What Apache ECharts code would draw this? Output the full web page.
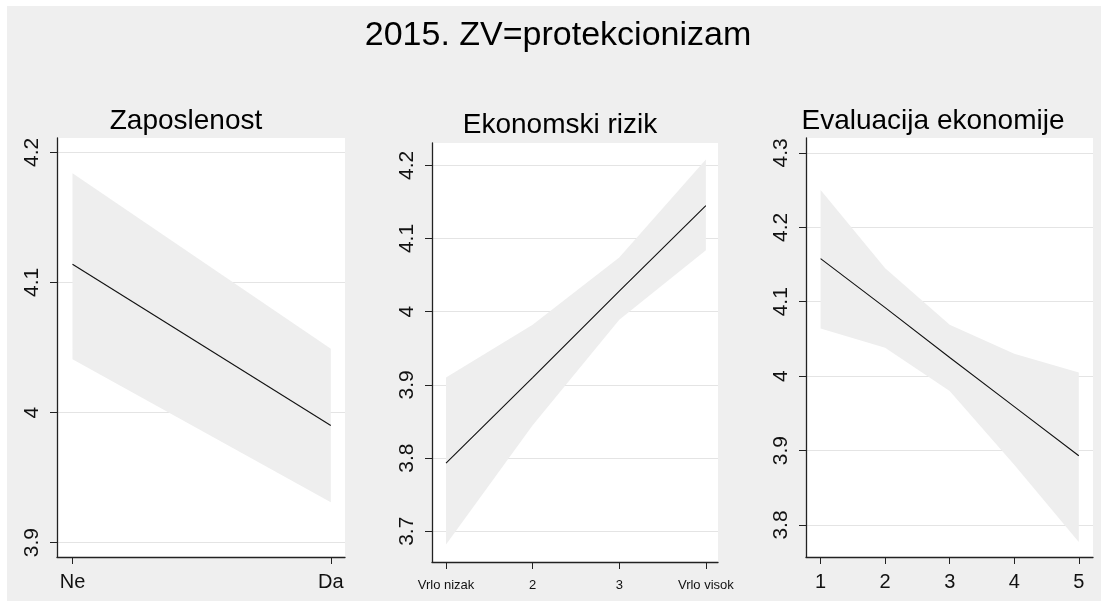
<!DOCTYPE html>
<html>
<head>
<meta charset="utf-8">
<script src="https://cdn.jsdelivr.net/npm/echarts@6/dist/echarts.min.js"></script>
<style>
  html, body { margin: 0; padding: 0; background: #fff; }
  #chart { width: 1101px; height: 601px; }
</style>
</head>
<body>
<div id="chart"></div>
<script>
// Zaposlenost
const zapCats = ['Ne', 'Da'];
const zapFit = [4.114, 3.990];
const zapLo = [4.041, 3.931];
const zapHi = [4.184, 4.049];
const zapTicks = [3.9, 4, 4.1, 4.2];

// Ekonomski rizik
const rizCats = ['Vrlo nizak', '2', '3', 'Vrlo visok'];
const rizFit = [3.793, 3.910, 4.028, 4.145];
const rizLo = [3.682, 3.845, 3.989, 4.084];
const rizHi = [3.910, 3.982, 4.074, 4.208];
const rizTicks = [3.7, 3.8, 3.9, 4, 4.1, 4.2];

// Evaluacija ekonomije
const evCats = ['1', '2', '3', '4', '5'];
const evFit = [4.158, 4.092, 4.025, 3.959, 3.893];
const evLo = [4.064, 4.038, 3.980, 3.881, 3.777];
const evHi = [4.250, 4.145, 4.069, 4.030, 4.005];
const evTicks = [3.8, 3.9, 4, 4.1, 4.2, 4.3];

const font = 'Arial, "Liberation Sans", sans-serif';
const bandColor = '#eeeeee';

const chart = echarts.init(document.getElementById('chart'));

const panels = [
	{ cats: zapCats, fit: zapFit, lo: zapLo, hi: zapHi, ticks: zapTicks, x0: 0,
	  grid: { left: 57, right: 756, top: 138, bottom: 44 },
	  xMin: -0.06, xMax: 1.055, yMin: 3.889, yMax: 4.211, labelSize: 20 },
	{ cats: rizCats, fit: rizFit, lo: rizLo, hi: rizHi, ticks: rizTicks, x0: 1,
	  grid: { left: 432, right: 383, top: 143, bottom: 39 },
	  xMin: 0.838, xMax: 4.14, yMin: 3.658, yMax: 4.2305, labelSize: 13 },
	{ cats: evCats, fit: evFit, lo: evLo, hi: evHi, ticks: evTicks, x0: 1,
	  grid: { left: 806, right: 8, top: 138, bottom: 44 },
	  xMin: 0.774, xMax: 5.22, yMin: 3.757, yMax: 4.320, labelSize: 20 }
];

const grids = [], xAxes = [], yAxes = [], series = [];
panels.forEach((p, i) => {
	grids.push(Object.assign({ show: true, backgroundColor: '#fff', borderWidth: 0 }, p.grid));
	const xs = p.cats.map((c, k) => k + p.x0);
	xAxes.push({
		type: 'value', gridIndex: i, min: p.xMin, max: p.xMax,
		axisLine: { onZero: false, lineStyle: { color: '#222', width: 1.3 } },
		axisTick: { length: 7, customValues: xs, lineStyle: { color: '#222' } },
		axisLabel: {
			customValues: xs, color: '#111', fontSize: p.labelSize, fontFamily: font,
			margin: p.labelSize > 15 ? 15 : 17,
			formatter: v => p.cats[Math.round(v - p.x0)]
		},
		splitLine: { show: false }
	});
	yAxes.push({
		type: 'value', gridIndex: i, min: p.yMin, max: p.yMax,
		axisLine: { show: true, onZero: false, lineStyle: { color: '#222', width: 1.3 } },
		axisTick: { show: true, length: 7, customValues: p.ticks, lineStyle: { color: '#222' } },
		axisLabel: {
			customValues: p.ticks, color: '#111', fontSize: 21, fontFamily: font, rotate: 90, margin: 14,
			formatter: v => String(Math.round(v * 10) / 10)
		},
		splitLine: { show: true, lineStyle: { color: '#e4e4e4', width: 1 } }
	});
	// confidence band as one polygon through the axis scales
	series.push({
		type: 'custom', xAxisIndex: i, yAxisIndex: i, silent: true,
		data: xs.map((x, k) => [x, p.lo[k], p.hi[k]]),
		encode: { x: 0, y: [1, 2] },
		renderItem: (params, api) => {
			if (params.dataIndex !== 0) return null;
			const top = xs.map((x, k) => api.coord([x, p.hi[k]]));
			const bot = xs.map((x, k) => api.coord([x, p.lo[k]])).reverse();
			return { type: 'polygon', shape: { points: top.concat(bot) }, style: { fill: bandColor } };
		}
	});
	series.push({
		type: 'line', xAxisIndex: i, yAxisIndex: i, symbol: 'none', silent: true,
		lineStyle: { color: '#111', width: 1.1 },
		data: xs.map((x, k) => [x, p.fit[k]])
	});
});

const titleStyle = (size) => ({ color: '#000', fontSize: size, fontWeight: 'normal', fontFamily: font });

chart.setOption({
	backgroundColor: '#efefef',
	animation: false,
	graphic: [
		{ type: 'rect', shape: { x: 0, y: 0, width: 1101, height: 6 }, style: { fill: '#fff' }, silent: true },
		{ type: 'rect', shape: { x: 0, y: 0, width: 7, height: 601 }, style: { fill: '#fff' }, silent: true }
	],
	title: [
		{ text: '2015. ZV=protekcionizam', left: 553, top: 14, textAlign: 'center', textStyle: titleStyle(34) },
		{ text: 'Zaposlenost', left: 181, top: 102, textAlign: 'center', textStyle: titleStyle(28) },
		{ text: 'Ekonomski rizik', left: 555, top: 106, textAlign: 'center', textStyle: titleStyle(28) },
		{ text: 'Evaluacija ekonomije', left: 928, top: 102, textAlign: 'center', textStyle: titleStyle(28) }
	],
	grid: grids,
	xAxis: xAxes,
	yAxis: yAxes,
	series: series
});
</script>
</body>
</html>
